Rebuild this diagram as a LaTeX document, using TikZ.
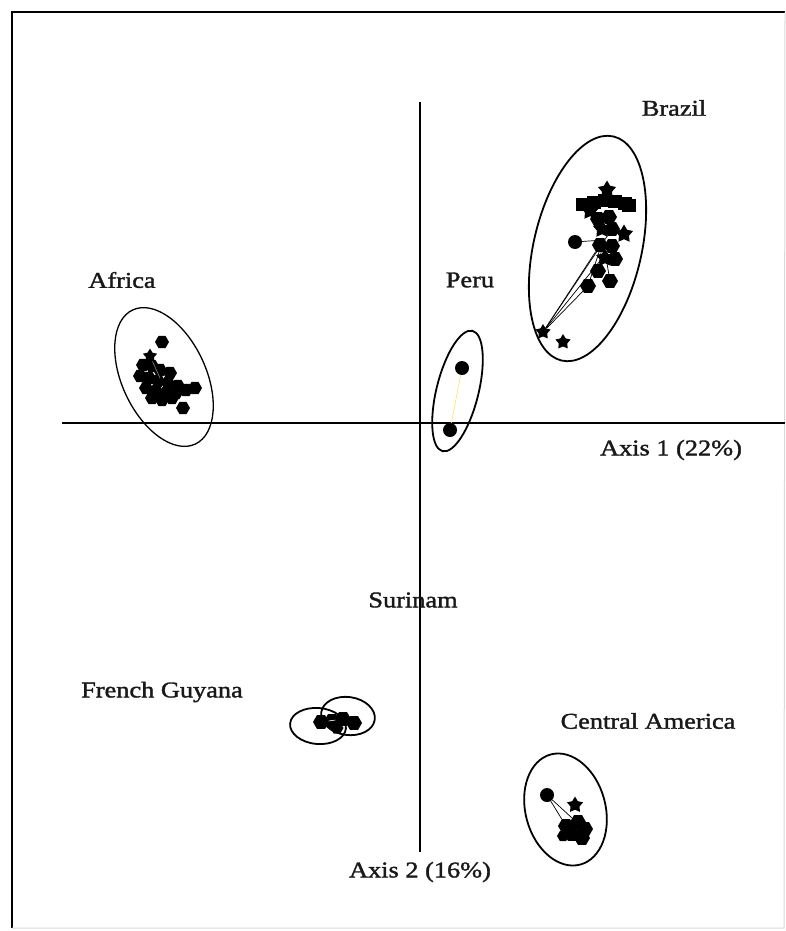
\documentclass[tikz,border=0pt]{standalone}
\usepackage{fontspec}
\newfontfamily\lblfont[FakeStretch=1.17,FakeBold=1.6]{Liberation Serif}
\usetikzlibrary{shapes.geometric}
\begin{document}
\begin{tikzpicture}[x=1pt,y=-1pt,
  lbl/.style={font=\lblfont\fontsize{22.5}{24}\selectfont, inner sep=0pt, text=black!90},
  dot/.style={circle, fill=black, draw=none, inner sep=0pt, minimum size=13pt},
  sdot/.style={star, star points=5, star point ratio=1.8, fill=black, draw=none, inner sep=0pt, minimum size=19pt},
  hdot/.style={regular polygon, regular polygon sides=6, fill=black, draw=none, inner sep=0pt, minimum size=16pt},
  sq/.style={rectangle, fill=black, draw=none, inner sep=0pt, minimum width=14pt, minimum height=13pt},
  hull/.style={draw=black, line width=1.8pt},
  axis/.style={draw=black, line width=1.3pt},
  spoke/.style={draw=black, line width=0.7pt}]
\useasboundingbox (0,0) rectangle (785,931);
% frame
\coordinate (f1) at (12,928);
\coordinate (f2) at (12,12);
\coordinate (f3) at (785,12);
\coordinate (f4) at (784,928);
\draw[line width=1.5pt] (f1) -- (f2) -- (f3);
\draw[black!15, line width=1pt] (f3) -- (f4) -- (f1);
% axes
\coordinate (hx0) at (62,423);
\coordinate (hx1) at (785,423);
\coordinate (vy0) at (420,102);
\coordinate (vy1) at (420,852);
\draw[axis] (hx0) -- (hx1);
\draw[axis] (vy0) -- (vy1);
% labels
\node[lbl] (lBrazil) at (674,108) {Brazil};
\node[lbl] (lAfrica) at (122,280) {Africa};
\node[lbl] (lPeru) at (470,280) {Peru};
\node[lbl] (lAx1) at (671,450) {Axis 1 (22\%)};
\node[lbl] (lSur) at (413,600) {Surinam};
\node[lbl] (lFG) at (162,692) {French Guyana};
\node[lbl] (lCA) at (648,721) {Central America};
\node[lbl] (lAx2) at (420,872) {Axis 2 (16\%)};
% ---------------- Brazil
\draw[hull, rotate around={-13:(587.5,248.5)}] (587.5,248.5) ellipse [x radius=54pt, y radius=115pt];
\coordinate (bc) at (603,240);
\node[sdot] (b1) at (607,190) {};
\node[sq] (b2) at (583,204) {};
\node[sq] (b3) at (594,202) {};
\node[sq] (b4) at (605,200) {};
\node[sq] (b5) at (615,201) {};
\node[sq] (b6) at (625,203) {};
\node[sq] (b7) at (629,205) {};
\node[sdot] (b8) at (590,211) {};
\node[hdot] (b9) at (598,219) {};
\node[hdot] (b10) at (609,217) {};
\node[sdot] (b11) at (602,229) {};
\node[hdot] (b12) at (612,229) {};
\node[dot, minimum size=14pt] (b13) at (575,242) {};
\node[sdot] (b14) at (624,234) {};
\node[hdot] (b15) at (600,245) {};
\node[hdot] (b16) at (612,246) {};
\node[sdot] (b17) at (605,258) {};
\node[hdot] (b18) at (615,259) {};
\node[hdot] (b19) at (598,271) {};
\node[hdot] (b20) at (588,286) {};
\node[hdot] (b21) at (610,281) {};
\node[sdot, minimum size=16pt] (b22) at (543,332) {};
\node[sdot, minimum size=16pt] (b23) at (563,342) {};
\foreach \p in {b13,b19,b20,b21,b15} \draw[spoke] (bc) -- (\p);
\draw[spoke] (b22) -- (b15);
\draw[spoke] (b22) -- (b16);
\draw[spoke] (b22) -- (b12);
\draw[spoke] (b22) -- (b20);
% ---------------- Africa
\draw[hull, line width=1.3pt, rotate around={25:(164,377)}] (164,377) ellipse [x radius=42pt, y radius=74pt];
\coordinate (ac) at (160,378);
\foreach \n/\x/\y in {a1/162/342, a2/143/365, a3/152/366, a4/160/370, a5/170/373,
  a6/140/376, a7/149/378, a8/158/381, a9/168/383, a10/178/386, a11/146/388,
  a12/156/391, a13/166/393, a14/176/393, a15/186/390, a16/195/388, a17/152/398,
  a18/162/400, a19/172/398, a20/183/408}
  \node[hdot, minimum size=14pt] (\n) at (\x,\y) {};
\node[sdot, minimum size=15pt] (a21) at (150,356) {};
\draw[black!40, line width=0.5pt] (ac) -- (a21);
% ---------------- Peru
\draw[hull, rotate around={-14:(457.5,391)}] (457.5,391) ellipse [x radius=21pt, y radius=62pt];
\node[dot, minimum size=14pt] (p1) at (462,368) {};
\node[dot, minimum size=14pt] (p2) at (450,430) {};
\draw[yellow!70!orange!60, line width=0.6pt] (p1) -- (p2);
% ---------------- French Guyana / Surinam
\draw[hull, rotate around={-5:(318,726)}] (318,726) ellipse [x radius=28pt, y radius=18pt];
\draw[hull, rotate around={-8:(348,716)}] (348,716) ellipse [x radius=27pt, y radius=19pt];
\node[hdot] (s1) at (321,722) {};
\node[hdot] (s2) at (332,721) {};
\node[hdot] (s3) at (343,719) {};
\node[hdot] (s4) at (354,723) {};
\node[hdot, minimum size=13pt] (s5) at (337,728) {};
\draw[white, line width=0.6pt] (s1) -- (s3);
% ---------------- Central America
\draw[hull, rotate around={15:(565.5,809.5)}] (565.5,809.5) ellipse [x radius=40pt, y radius=57pt];
\coordinate (cc) at (572,818);
\node[dot, minimum size=14pt] (c1) at (547,795) {};
\node[sdot, minimum size=17pt] (c2) at (575,805) {};
\node[hdot] (c3) at (566,826) {};
\node[hdot] (c4) at (578,822) {};
\node[hdot] (c5) at (585,829) {};
\node[hdot] (c6) at (572,834) {};
\node[hdot] (c7) at (582,838) {};
\node[hdot, minimum size=12pt] (c8) at (563,836) {};
\draw[spoke] (c1) -- (cc);
\draw[spoke] (c1) -- (c3);
\end{tikzpicture}
\end{document}
